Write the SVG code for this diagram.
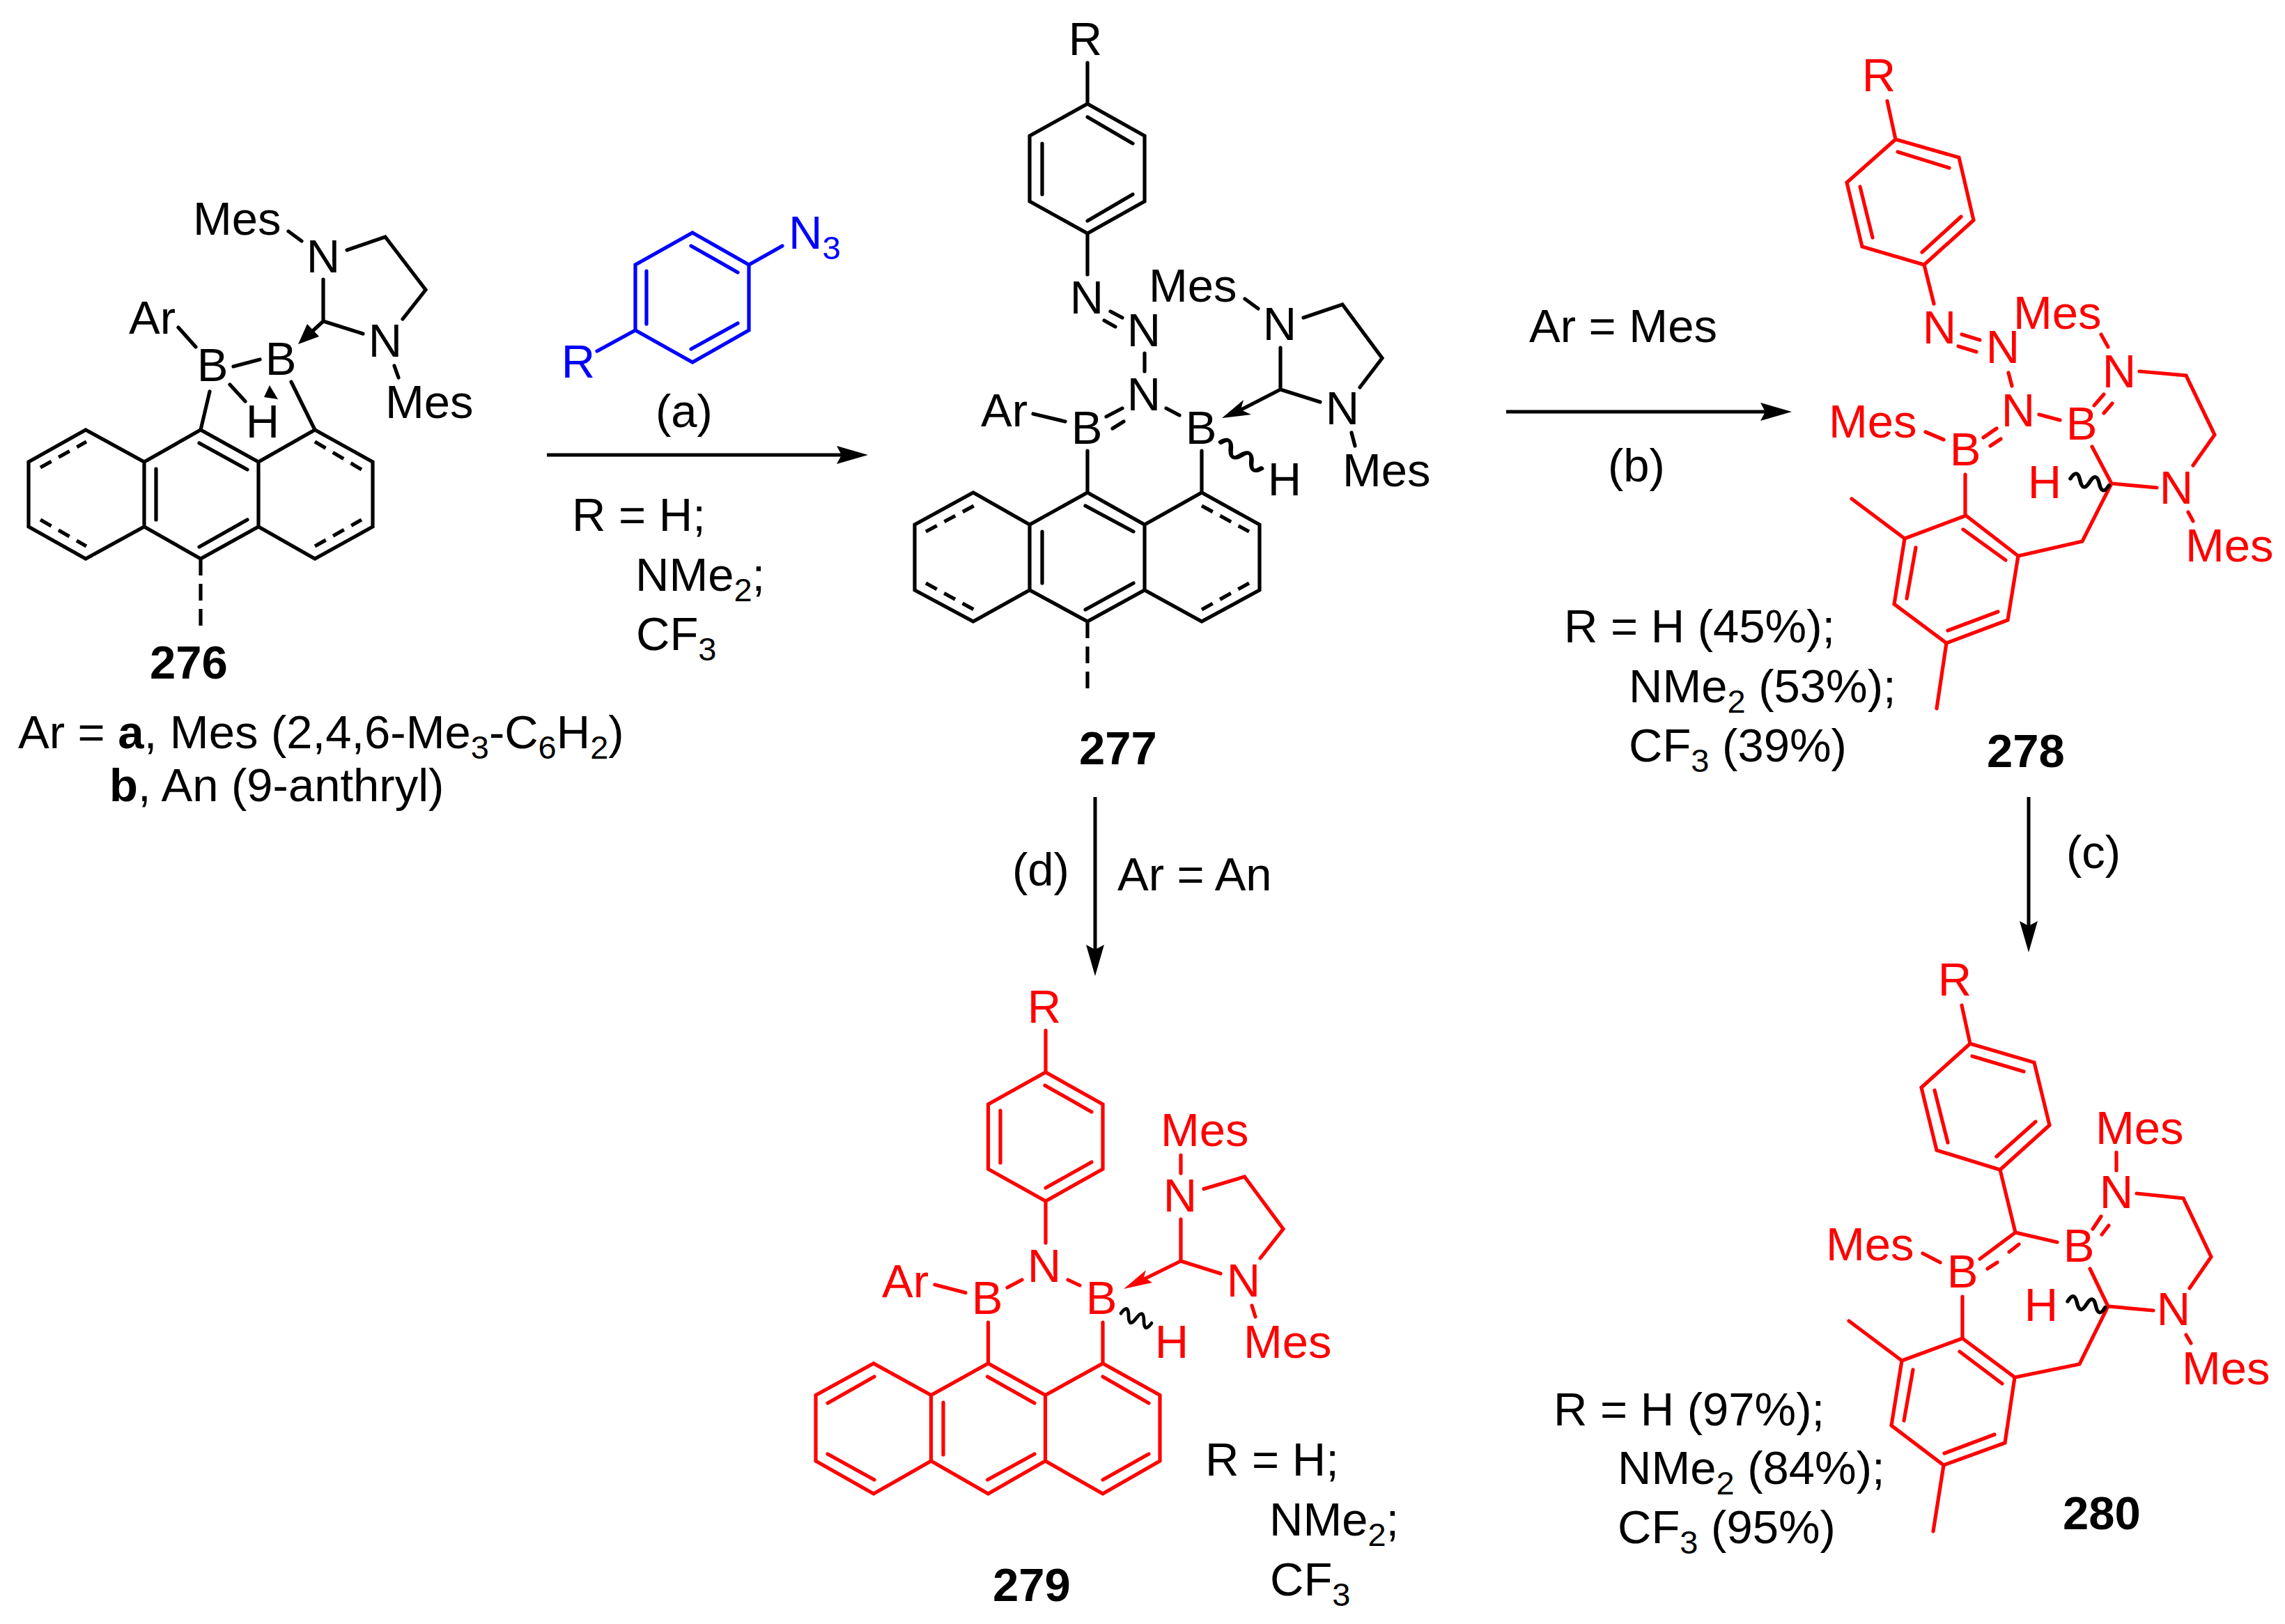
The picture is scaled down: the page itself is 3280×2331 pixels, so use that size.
<svg xmlns="http://www.w3.org/2000/svg" width="3280" height="2331" viewBox="0 0 3280 2331">
<style>
text{font-family:"Liberation Sans",Arial,sans-serif;font-size:67px;fill:#000}
.sub{font-size:47px}
.c{text-anchor:middle}
.lbl{font-weight:700}
path,use{fill:none;stroke:#000;stroke-width:5.2;stroke-linejoin:miter;stroke-linecap:round}
.d{stroke-dasharray:18 12;stroke-linecap:butt}
.v{stroke-dasharray:24 12;stroke-linecap:butt}
.hd{fill:#000;stroke:none}
.red path,.red use{stroke:#f00}
.red text{fill:#f00}
.red .hd{fill:#f00;stroke:none}
.blue path{stroke:#00f}
.blue text{fill:#00f}
#connectors path{stroke-width:5;stroke-linecap:butt}
</style>
<defs>
<marker id="arr" markerUnits="userSpaceOnUse" markerWidth="46" markerHeight="28" refX="7" refY="14" orient="auto"><path d="M45 14L0 1L7 14L0 27Z" style="fill:#000;stroke:none"/></marker>
<path id="wavy" d="M0 0Q6.500 -17 13 0T26 0T39 0T52 0"/>
</defs>
<rect width="3280" height="2331" fill="#fff"/>

<g id="connectors">
<path d="M785 653H1208" marker-end="url(#arr)"/>
<path d="M2162 591H2534" marker-end="url(#arr)"/>
<path d="M1572 1144V1363" marker-end="url(#arr)"/>
<path d="M2912 1144V1329" marker-end="url(#arr)"/>
</g>

<g id="n276">
<path d="M41 663L123 617L207 663L288 617L371 663L452 617L535 663V756L452 802L371 756L288 802L207 756L123 802L41 756ZM207 663V756M371 663V756"/>
<path d="M286 636L355 674M224 673V746M286 785L355 746"/>
<path class="d" d="M58 671L124 634M58 746L124 784M452 634L519 674M452 784L519 746"/>
<path class="v" d="M288 802V899"/>
<path d="M301 562L288 617M418 548L452 617M335 526L373 516M256 470L281 498M330 552L352 576M414 332L433 346M464 401V461M498 359L553 340L611 416L578 458M464 461L521 479M566 525L572 542M464 461L436 487"/>
<path class="hd" d="M428 494L458 483L441 465Z"/>
<path class="hd" d="M387 553L379 570L399 573Z"/>
<text x="277" y="337">Mes</text><text class="c" x="464" y="391">N</text><text class="c" x="553" y="512">N</text>
<text x="553" y="600">Mes</text><text x="185" y="479">Ar</text><text class="c" x="305" y="547">B</text><text class="c" x="403" y="538">B</text><text class="c" x="377" y="628">H</text>
<text class="lbl c" x="271" y="974">276</text>
<text x="26" y="1074">Ar = <tspan class="lbl">a</tspan>, Mes (2,4,6-Me<tspan class="sub" dy="15">3</tspan><tspan dy="-15">-C</tspan><tspan class="sub" dy="15">6</tspan><tspan dy="-15">H</tspan><tspan class="sub" dy="15">2</tspan><tspan dy="-15">)</tspan></text>
<text x="157" y="1150"><tspan class="lbl">b</tspan>, An (9-anthryl)</text>
</g>

<g id="azide" class="blue">
<path d="M994 334L1075 380V474L994 520L912 474V380Z"/>
<path d="M992 353L1059 391M928 389V465M992 501L1059 464M1075 380L1123 353M912 474L857 504"/>
<text class="c" x="830" y="542">R</text>
<text x="1132" y="357">N<tspan class="sub" dy="15">3</tspan></text>
</g>

<g id="cond-a">
<text class="c" x="982" y="613">(a)</text>
<text x="821" y="762">R = H;</text>
<text x="912" y="848">NMe<tspan class="sub" dy="15">2</tspan><tspan dy="-15">;</tspan></text>
<text x="913" y="933">CF<tspan class="sub" dy="15">3</tspan></text>
</g>

<g id="n277">
<path d="M1561 149L1643 195V289L1561 335L1478 289V195Z"/>
<path d="M1561 168L1626 206M1496 206V279M1561 317L1626 279M1561 90V149M1561 335V394M1594 447L1611 456M1585 460L1601 469M1643 507V533M1588 598L1611 586M1597 615L1613 605M1674 586L1693 596M1483 594L1529 605M1561 647V707M1725 647V707"/>
<path d="M1313 753L1397 707L1478 753L1561 707L1643 753L1725 707L1808 753V847L1725 892L1643 847L1561 892L1478 847L1397 892L1313 847ZM1478 753V847M1643 753V847"/>
<path d="M1558 726L1627 763M1496 763V837M1558 875L1627 837"/>
<path class="d" d="M1329 763L1398 726M1329 837L1398 875M1725 726L1793 763M1725 875L1793 837"/>
<path class="v" d="M1561 892V988"/>
<path d="M1787 429L1806 443M1871 456L1927 437L1984 514L1952 556M1838 499V559L1895 577M1940 621L1945 640M1838 559L1770 594"/>
<path class="hd" d="M1754 600L1785 574L1781 588L1796 595Z"/>
<use href="#wavy" transform="translate(1752 635) rotate(32) scale(1.34 1)"/>
<text class="c" x="1558" y="79">R</text><text class="c" x="1560" y="450">N</text><text class="c" x="1642" y="497">N</text><text class="c" x="1642" y="589">N</text>
<text class="c" x="1560" y="637">B</text><text class="c" x="1724" y="637">B</text><text x="1408" y="612">Ar</text>
<text x="1649" y="433">Mes</text><text class="c" x="1837" y="488">N</text><text class="c" x="1927" y="609">N</text><text x="1927" y="698">Mes</text><text class="c" x="1844" y="711">H</text>
<text class="lbl c" x="1605" y="1097">277</text>
</g>

<g id="cond-b">
<text x="2195" y="491">Ar = Mes</text>
<text class="c" x="2349" y="691">(b)</text>
<text x="2245" y="922">R = H (45%);</text>
<text x="2338" y="1008">NMe<tspan class="sub" dy="15">2</tspan><tspan dy="-15"> (53%);</tspan></text>
<text x="2338" y="1093">CF<tspan class="sub" dy="15">3</tspan><tspan dy="-15"> (39%)</tspan></text>
</g>

<g id="n278" class="red">
<path d="M2721 200L2812 226L2833 316L2762 380L2673 354L2651 262Z"/>
<path d="M2724 218L2798 241M2670 268L2688 341M2759 362L2815 311M2709 145L2721 200M2762 380L2776 436M2816 480L2842 488M2811 497L2837 505M2883 535L2888 554M3016 480L3026 498M3071 533L3138 539L3179 624L3148 668M3031 694L3096 700M3141 735L3148 748M3006 582L3020 566M3020 593L3032 579M2927 595L2957 603M2847 628L2866 615M2857 640L2872 630M2764 620L2790 631M2821 681V740M3003 641L3031 694L2989 777L2897 798"/>
<path d="M2822 740L2897 798L2882 890L2794 923L2719 867L2734 773Z"/>
<path d="M2818 760L2879 804M2750 786L2737 859M2796 905L2868 878M2734 773L2658 716M2794 923L2780 1017"/>
<use href="#wavy" transform="translate(2972 687) rotate(10) scale(1.08 1)"/>
<text class="c" x="2697" y="131">R</text><text class="c" x="2784" y="493">N</text><text class="c" x="2875" y="521">N</text><text class="c" x="2897" y="612">N</text>
<text x="2890" y="472">Mes</text><text class="c" x="3042" y="556">N</text><text class="c" x="3124" y="723">N</text><text x="3137" y="806">Mes</text>
<text class="c" x="2988" y="631">B</text><text class="c" x="2821" y="668">B</text><text x="2625" y="628">Mes</text><text class="c" x="2935" y="715">H</text>
</g>
<text id="l278" class="lbl c" x="2908" y="1101">278</text>

<text id="cond-c" class="c" x="3005" y="1246">(c)</text>

<g id="cond-d">
<text class="c" x="1494" y="1271">(d)</text>
<text x="1604" y="1278">Ar = An</text>
</g>

<g id="n279" class="red">
<path d="M1501 1539L1583 1585V1678L1501 1724L1418.500 1678V1585Z"/>
<path d="M1500 1558L1567 1596M1436 1594V1669M1501 1705L1567 1668M1501 1479V1539M1501 1724V1784M1342 1844L1386 1855.500M1446 1848L1467 1837M1533 1837L1550 1845M1418.500 1898V1957M1583 1898V1957"/>
<path d="M1171 2002.500L1254 1957L1336.500 2002.500L1418.500 1957L1500.500 2002.500L1583 1957L1665 2002.500V2097L1583 2144L1500.500 2097L1418.500 2144L1336.500 2097L1254 2144L1171 2097ZM1336.500 2002.500V2097M1500.500 2002.500V2097"/>
<path d="M1188 2014L1255 1976M1188 2087L1255 2124M1417.500 1976L1485 2014M1354 2013V2088M1417.500 2124L1485 2087M1583 1976L1649 2014M1583 2124L1649 2087"/>
<path d="M1695 1658V1684M1728 1706.500L1786.500 1689L1842 1764L1809 1806M1695 1750V1810L1752 1828M1797 1874L1802 1890M1695 1810L1632 1841"/>
<path class="hd" d="M1613 1850L1645 1823L1642 1833L1654 1841Z"/>
<use href="#wavy" transform="translate(1609 1885) rotate(18) scale(.89 1)"/>
<text class="c" x="1499" y="1468">R</text><text class="c" x="1499" y="1840">N</text><text class="c" x="1417" y="1886">B</text><text class="c" x="1581" y="1886">B</text><text x="1266" y="1862">Ar</text>
<text x="1666" y="1645">Mes</text><text class="c" x="1694" y="1739">N</text><text class="c" x="1785" y="1861">N</text><text x="1785" y="1949">Mes</text><text class="c" x="1682" y="1949">H</text>
</g>
<text id="l279" class="lbl c" x="1481" y="2298">279</text>
<g id="cond-279">
<text x="1730" y="2118">R = H;</text>
<text x="1822" y="2204">NMe<tspan class="sub" dy="15">2</tspan><tspan dy="-15">;</tspan></text>
<text x="1823" y="2290">CF<tspan class="sub" dy="15">3</tspan></text>
</g>

<g id="n280" class="red">
<path d="M2828 1498L2920 1525L2942 1615L2871 1679L2780 1651L2758 1561Z"/>
<path d="M2831 1516L2905 1538M2777 1565L2796 1640M2866 1660L2922 1610M2816 1443L2828 1498M2871 1679L2893 1769L2953 1783M2893 1769L2842 1807M2898 1786L2884 1797M2867 1812L2853 1821M2760 1799L2785 1812M2817 1861V1921M3038 1654V1680M3067 1713L3134 1720L3174 1804L3143 1849M3026 1875L3091 1881M3138 1916L3145 1928M3004 1764L3016 1746M3017 1772L3027 1759M3000 1821L3026 1875L2985 1958L2892 1977"/>
<path d="M2817 1921L2892 1977L2878 2071L2790 2103L2715 2046L2730 1953Z"/>
<path d="M2813 1940L2874 1986M2746 1966L2733 2039M2791 2086L2863 2059M2730 1953L2654 1896M2790 2103L2775 2198"/>
<use href="#wavy" transform="translate(2968 1868) rotate(9) scale(1.05 1)"/>
<text class="c" x="2806" y="1429">R</text><text class="c" x="2817" y="1848">B</text><text class="c" x="2984" y="1811">B</text><text x="2621" y="1809">Mes</text>
<text x="3008" y="1642">Mes</text><text class="c" x="3038" y="1734">N</text><text class="c" x="3120" y="1902">N</text><text x="3132" y="1987">Mes</text><text class="c" x="2930" y="1896">H</text>
</g>
<text id="l280" class="lbl c" x="3017" y="2195">280</text>
<g id="cond-280">
<text x="2230" y="2046">R = H (97%);</text>
<text x="2322" y="2130">NMe<tspan class="sub" dy="15">2</tspan><tspan dy="-15"> (84%);</tspan></text>
<text x="2322" y="2215">CF<tspan class="sub" dy="15">3</tspan><tspan dy="-15"> (95%)</tspan></text>
</g>
</svg>
